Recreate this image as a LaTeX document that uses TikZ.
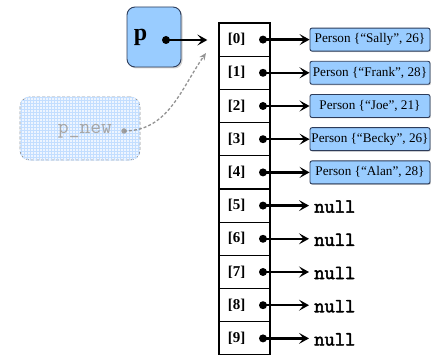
\documentclass[tikz,border=0pt]{standalone}
\usepackage{fontspec}
\setmainfont{Liberation Serif}
\newfontfamily\codefont[FakeBold=2.5]{Latin Modern Mono}
\newfontfamily\ghostfont{Latin Modern Mono}
\usetikzlibrary{arrows.meta,shadows,patterns}
\definecolor{objfill}{RGB}{153,204,255}
\definecolor{objline}{RGB}{45,60,90}
\definecolor{ghostfill}{RGB}{238,245,255}
\definecolor{ghostgrid}{RGB}{195,222,255}
\definecolor{ghostline}{RGB}{150,150,150}
\begin{document}
\begin{tikzpicture}[x=1pt,y=-1pt,
  cell/.style={draw,line width=1.3pt,minimum width=51pt,minimum height=33.2pt,inner sep=0pt},
  idx/.style={inner sep=0pt,font=\fontsize{15}{15}\selectfont\bfseries},
  ref/.style={line width=2.3pt,-{Stealth[length=10pt,width=11pt,inset=4.5pt]}},
  pdot/.style={circle,fill,inner sep=0pt,minimum size=8pt},
  person/.style={draw=objline,fill=objfill,rounded corners=2pt,line width=0.9pt,
    minimum width=120pt,minimum height=23pt,inner sep=0pt,
    font=\fontsize{13.2}{14}\selectfont,
    drop shadow={shadow xshift=1pt,shadow yshift=-1pt,opacity=0.35}},
  nullv/.style={anchor=west,inner sep=0pt,font=\fontsize{20}{20}\selectfont\codefont},
  ghost/.style={draw=ghostline,densely dashed,fill=ghostfill,rounded corners=10pt,line width=0.8pt,
    minimum width=120pt,minimum height=63pt,inner sep=0pt}]
\useasboundingbox (0,0) rectangle (431,355);
\clip (0,0) rectangle (431,355);

% the array of references
\foreach \i in {0,...,9} {
  \node[cell] (c\i) at (244.5,{23+33.2*(\i+0.5)}) {};
  \node[idx] (n\i) at (236.5,{23+33.2*(\i+0.5)}) {[\i]};
  \node[pdot] (d\i) at (263,{23+33.2*(\i+0.5)}) {};
}

% the objects held in the first five slots
\foreach \i/\nm/\ag in {0/Sally/26,1/Frank/28,2/Joe/21,3/Becky/26,4/Alan/28} {
  \node[person] (o\i) at (370,{23+33.2*(\i+0.5)}) {Person \{“\nm”, \ag\}};
  \draw[ref] (d\i.center) -- (o\i.west);
}

% empty slots
\foreach \i in {5,...,9} {
  \node[nullv] (z\i) at (314,{23+33.2*(\i+0.5)+1}) {null};
  \draw[ref,shorten >=5pt] (d\i.center) -- (d\i.center -| z\i.west);
}

% the variable p
\node[draw=objline,fill=objfill,rounded corners=8pt,line width=0.9pt,
  minimum width=54pt,minimum height=60pt,inner sep=0pt,
  drop shadow={shadow xshift=1.5pt,shadow yshift=-1.5pt,opacity=0.35}] (pbox) at (154,37) {};
\node[inner sep=0pt,font=\fontsize{24}{24}\selectfont\bfseries] (plab) at (140.5,37) {p};
\node[pdot] (pd) at (166,40) {};
\draw[ref,shorten >=11pt] (pd.center) -- (pd.center -| c0.west);

% the faded variable p_new
\node[ghost] (pn) at (80,128.5) {};
\path[pattern=grid,pattern color=ghostgrid,rounded corners=10pt] (pn.north west) rectangle (pn.south east);
\node[inner sep=0pt,text=gray!70,font=\fontsize{21}{21}\selectfont\ghostfont] (pnlab) at (85,131) {p\_new};
\node[circle,fill=gray!75,inner sep=0pt,minimum size=5.5pt] (pnd) at (124,131) {};
\coordinate (pin) at (206,53);
\draw[gray!85,line width=1.3pt,densely dashed,-{Stealth[length=7pt,width=6pt]}]
  (pnd.center) to[out=0,in=235] (pin);
\end{tikzpicture}
\end{document}
